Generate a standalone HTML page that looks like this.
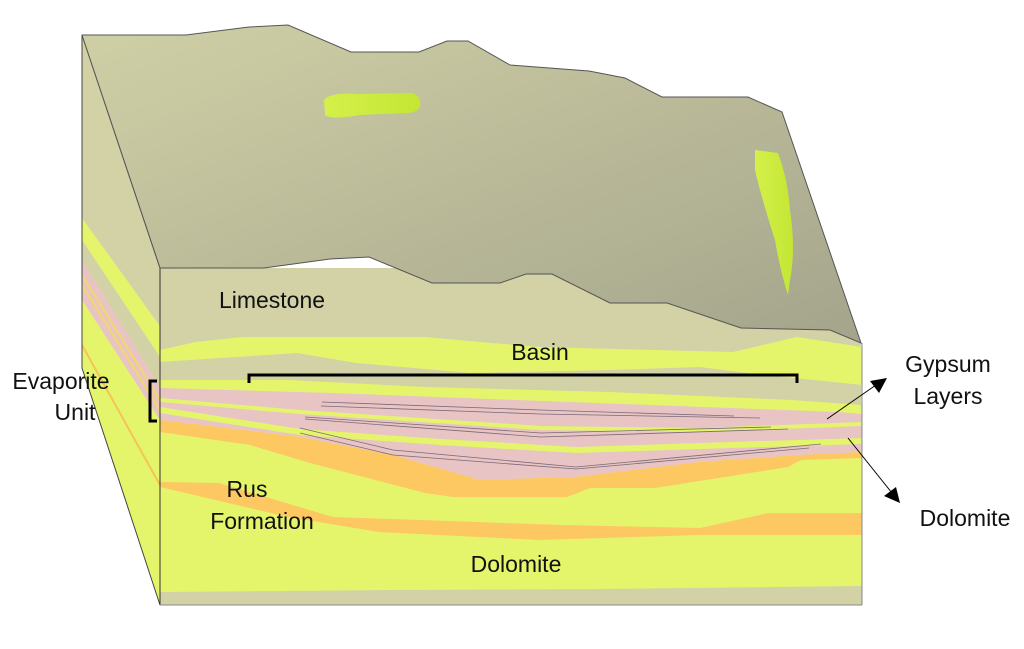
<!DOCTYPE html>
<html><head><meta charset="utf-8"><style>
html,body{margin:0;padding:0;background:#fff;}
svg{display:block;}
text{font-family:"Liberation Sans",sans-serif;fill:#111;}
</style></head><body>
<svg width="1024" height="649" viewBox="0 0 1024 649" xmlns="http://www.w3.org/2000/svg">
<defs>
<linearGradient id="tg" x1="0" y1="0" x2="1" y2="1">
<stop offset="0" stop-color="#d0d0a6"/><stop offset="1" stop-color="#a4a48c"/>
</linearGradient>
<linearGradient id="bg" x1="0" y1="0" x2="1" y2="0">
<stop offset="0" stop-color="#d4f04a"/><stop offset="1" stop-color="#c4e634"/>
</linearGradient>
<clipPath id="lc"><polygon points="82,35 160,268 160,605 82,368"/></clipPath>
<clipPath id="fc"><polygon points="160,268 862,268 862,605 160,605"/></clipPath>
</defs>

<!-- left face -->
<g clip-path="url(#lc)">
<rect x="70" y="30" width="100" height="600" fill="#e4f56c"/>
<polygon points="70,0 170,0 170,340 82,218 70,200" fill="#d2d2a6"/>
<polygon points="82,240 160,357 160,387 82,260" fill="#d2d2a6"/>
<polygon points="82,260 160,387 160,420 82,300" fill="#e8c4c4"/>
<line x1="82" y1="275" x2="160" y2="400" stroke="#f2d86a" stroke-width="2"/>
<line x1="82" y1="285" x2="160" y2="410" stroke="#f2d86a" stroke-width="2"/>
<line x1="82" y1="345" x2="160" y2="485" stroke="#f6c25a" stroke-width="2"/>
</g>
<polygon points="82,35 160,268 160,605 82,368" fill="none" stroke="#444" stroke-width="1"/>

<!-- front face -->
<g clip-path="url(#fc)">
<polygon points="160,268 264,268 330,259 369,257 432,283 500,283 526,274 552,274 610,303 667,303 741,328 830,330 861,343 862,605 160,605" fill="#d2d2a6"/>
<polygon points="160,350 196,342 242,337 425,337 480,342 540,347 733,352 797,337 862,347 862,385 746,373 700,367 609,370 471,373 356,363 297,353 160,362" fill="#e4f56c"/>
<polygon points="160,380 288,380 425,387 609,392 792,400 862,405 862,620 160,620" fill="#e4f56c"/>
<polygon points="160,388 333,393 517,400 838,412 862,414 862,452 800,455 700,462 576,477 480,480 393,455 300,437 160,420" fill="#e8c4c4"/>
<polyline points="160,400 300,412 541,428 700,430 862,424" fill="none" stroke="#e4f56c" stroke-width="4"/>
<polyline points="160,410 300,432 440,442 576,450 700,446 862,441" fill="none" stroke="#e4f56c" stroke-width="6"/>
<polygon points="160,420 300,437 393,455 480,480 576,477 700,462 800,455 862,452 862,458 801,460 788,467 655,488 590,488 567,497 453,497 425,493 310,463 250,445 160,432" fill="#fdc862"/>
<polygon points="160,482 219,483 333,517 563,525 700,528 769,513 862,513 862,535 700,535 540,540 379,532 288,517 160,487" fill="#fdc862"/>
<polygon points="160,592 400,590 600,589 862,586 862,610 160,610" fill="#d2d2a6"/>
<g fill="none" stroke="#7a6a78" stroke-width="0.8">
<polyline points="322,402 540,410 734,416"/>
<polyline points="321,406 540,414 760,418"/>
<polyline points="305,417 541,433 771,427"/>
<polyline points="305,419 541,437 788,429"/>
<polyline points="300,428 393,450 576,467 821,444"/>
<polyline points="300,433 393,455 576,469 809,448"/>
</g>
</g>
<line x1="160" y1="268" x2="160" y2="605" stroke="#333" stroke-width="1"/>
<line x1="160" y1="605" x2="862" y2="605" stroke="#888" stroke-width="1"/>
<line x1="862" y1="343" x2="862" y2="605" stroke="#888" stroke-width="1"/>

<!-- top surface -->
<polygon points="82,35 186,35 249,27 288,25 351,52 419,52 447,41 468,41 510,65 589,71 625,78 662,97 748,97 782,112 861,343 830,330 741,328 667,303 610,303 552,274 526,274 500,283 432,283 369,257 330,259 264,268 160,268" fill="url(#tg)" stroke="#555" stroke-width="1"/>
<path d="M324,100 Q330,92 360,94 L412,93 Q422,96 420,106 Q418,113 405,113 L360,115 Q330,120 325,115 Z" fill="url(#bg)"/>
<path d="M755,150 L778,153 Q788,180 790,210 Q796,250 790,280 L788,295 Q780,270 775,240 Q762,200 755,170 Z" fill="url(#bg)"/>

<!-- brackets -->
<polyline points="249,383 249,375 797,375 797,383" fill="none" stroke="#000" stroke-width="3"/>
<polyline points="157,381 150,381 150,421 157,421" fill="none" stroke="#000" stroke-width="3"/>

<!-- arrows -->
<line x1="827" y1="419" x2="876" y2="385" stroke="#000" stroke-width="1"/>
<polygon points="887,378 870,381 879,393" fill="#000"/>
<line x1="848" y1="438" x2="892" y2="493" stroke="#000" stroke-width="1"/>
<polygon points="900,503 884,496 896,487" fill="#000"/>

<!-- labels -->
<text x="272" y="308" font-size="23" text-anchor="middle">Limestone</text>
<text x="540" y="360" font-size="23" text-anchor="middle">Basin</text>
<text x="61" y="389" font-size="23" text-anchor="middle">Evaporite</text>
<text x="75" y="420" font-size="23" text-anchor="middle">Unit</text>
<text x="247" y="497" font-size="23" text-anchor="middle">Rus</text>
<text x="262" y="529" font-size="23" text-anchor="middle">Formation</text>
<text x="516" y="572" font-size="23" text-anchor="middle">Dolomite</text>
<text x="948" y="372" font-size="23" text-anchor="middle">Gypsum</text>
<text x="948" y="404" font-size="23" text-anchor="middle">Layers</text>
<text x="965" y="526" font-size="23" text-anchor="middle">Dolomite</text>
</svg>
</body></html>
